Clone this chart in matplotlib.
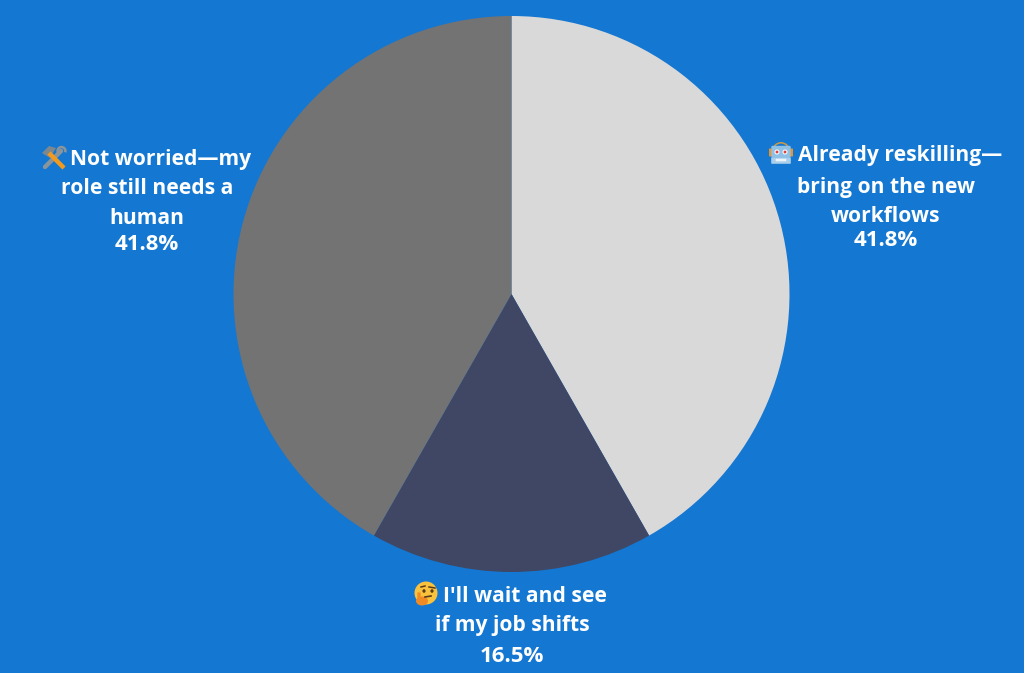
import matplotlib
matplotlib.use("Agg")
import matplotlib.pyplot as plt
from matplotlib.patches import Circle, Ellipse, FancyBboxPatch, Polygon, Wedge

BG = "#1477d1"

categories = [
    "Already reskilling\u2014\nbring on the new\nworkflows",
    "I'll wait and see\nif my job shifts",
    "Not worried\u2014my\nrole still needs a\nhuman",
]
values = [41.8, 16.5, 41.8]
slice_colors = ["#d9d9d9", "#3f4765", "#737373"]

plt.rcParams["font.family"] = ["Open Sans", "DejaVu Sans"]

W, H = 1024, 673
fig = plt.figure(figsize=(W / 100, H / 100), dpi=100, facecolor=BG)
ax = fig.add_axes([0, 0, 1, 1])
ax.set_facecolor(BG)
ax.pie(values, colors=slice_colors, startangle=90, counterclock=False,
       center=(511.5, H - 294), radius=278, frame=True,
       wedgeprops={"linewidth": 0})
ax.set_xlim(0, W)
ax.set_ylim(0, H)
ax.set_aspect("equal")
ax.axis("off")


def py(y):
    # y measured from the top edge
    return H - y


def put(x, y, s, size=15.1):
    ax.text(x, py(y), s, color="white", fontsize=size, fontweight="bold",
            ha="center", va="center")


# robot icon
def robot(cx, cy):
    ax.add_patch(Wedge((cx, py(cy - 3)), 9, 0, 180, width=1.6, color="#c99a4a", lw=0))
    ax.add_patch(FancyBboxPatch((cx - 11.5, py(cy + 2)), 2.5, 7, boxstyle="round,pad=0.5", color="#e8952f", lw=0))
    ax.add_patch(FancyBboxPatch((cx + 9, py(cy + 2)), 2.5, 7, boxstyle="round,pad=0.5", color="#e8952f", lw=0))
    ax.add_patch(FancyBboxPatch((cx - 8.5, py(cy + 2)), 17, 9, boxstyle="round,pad=1.2", color="#8fc0e6", lw=0))
    ax.add_patch(FancyBboxPatch((cx - 9, py(cy + 9)), 18, 5, boxstyle="round,pad=0.8", color="#a9cfea", lw=0))
    ax.add_patch(Circle((cx - 4, py(cy - 2)), 2.6, color="#f2f6f9", lw=0))
    ax.add_patch(Circle((cx + 4, py(cy - 2)), 2.6, color="#f2f6f9", lw=0))
    ax.add_patch(Circle((cx - 4, py(cy - 2)), 1.4, color="#e0403a", lw=0))
    ax.add_patch(Circle((cx + 4, py(cy - 2)), 1.4, color="#e0403a", lw=0))
    ax.add_patch(FancyBboxPatch((cx - 5, py(cy + 7)), 10, 2, boxstyle="round,pad=0.3", color="#eef4f8", lw=0))


# crossed hammer and wrench icon
def tools(cx, cy):
    ax.plot([cx - 9, cx + 7], [py(cy + 10), py(cy - 6)], color="#8a949b", lw=3.2, solid_capstyle="round")
    ax.add_patch(Wedge((cx + 7.5, py(cy - 6)), 5.2, -20, 215, width=2.6, color="#8a949b", lw=0))
    ax.plot([cx - 5, cx + 10], [py(cy - 4), py(cy + 11)], color="#f29a1f", lw=3.2, solid_capstyle="butt")
    ax.add_patch(Polygon([(cx - 12, py(cy - 4)), (cx - 5, py(cy - 11)), (cx + 2, py(cy - 9)),
                          (cx - 4, py(cy + 1))], closed=True, color="#7d878e", lw=0))


# thinking face icon
def thinking(cx, cy):
    ax.add_patch(Circle((cx, py(cy - 1)), 11.5, color="#f9c23c", lw=0))
    ax.add_patch(Ellipse((cx - 2, py(cy - 3)), 3.2, 3.6, color="#5a3a1e", lw=0))
    ax.add_patch(Ellipse((cx + 6, py(cy - 3)), 3.2, 3.6, color="#5a3a1e", lw=0))
    ax.plot([cx - 5, cx - 1], [py(cy - 7), py(cy - 8)], color="#5a3a1e", lw=1.1)
    ax.plot([cx + 3, cx + 9], [py(cy - 7), py(cy - 6)], color="#5a3a1e", lw=1.1)
    ax.plot([cx - 1, cx + 5], [py(cy + 3), py(cy + 2)], color="#5a3a1e", lw=1.2)
    ax.add_patch(Ellipse((cx - 4, py(cy + 7)), 12, 9, color="#f08a24", lw=0))
    ax.add_patch(FancyBboxPatch((cx - 8, py(cy + 6)), 2, 7, boxstyle="round,pad=0.6", color="#f08a24", lw=0))


# label lines, first line of each sits beside its icon
right_lines = categories[0].split("\n") + [f"{values[0]}%"]
put(900, 156, right_lines[0])
put(886, 187, right_lines[1])
put(886, 216, right_lines[2])
put(886, 241, right_lines[3], 16)
robot(781, 154)

bottom_lines = categories[1].split("\n") + [f"{values[1]}%"]
put(525, 596, bottom_lines[0])
put(512, 626, bottom_lines[1])
put(512, 656, bottom_lines[2], 16)
thinking(426, 594)

left_lines = categories[2].split("\n") + [f"{values[2]}%"]
put(161, 159, left_lines[0])
put(147, 188, left_lines[1])
put(147, 218, left_lines[2])
put(147, 244, left_lines[3], 16)
tools(54, 157)

fig.savefig("out.png", dpi=100, facecolor=BG)
